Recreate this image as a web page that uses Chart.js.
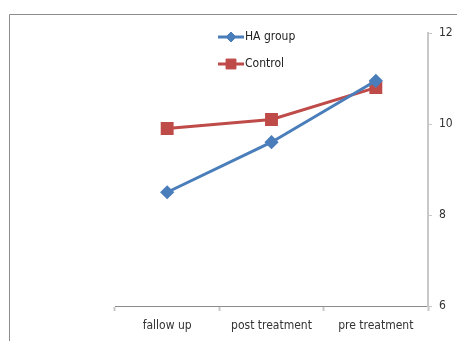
<!DOCTYPE html>
<html>
<head>
<meta charset="utf-8">
<script src="https://cdn.jsdelivr.net/npm/chart.js@4/dist/chart.umd.min.js"></script>
<style>
  html, body { margin: 0; padding: 0; background: #fff; }
  #wrap { width: 457px; height: 341px; position: relative; }
</style>
</head>
<body>
<div id="wrap"><canvas id="c" width="457" height="341"></canvas></div>
<script>
const categories = ['fallow up', 'post treatment', 'pre treatment'];
const haGroup = [8.5, 9.6, 10.95];
const control = [9.9, 10.1, 10.8];
const yTicks = [6, 8, 10, 12];

const FONT = "'Liberation Sans Narrow', 'DejaVu Sans Condensed', 'Liberation Sans', sans-serif";

// Outer frame (only top and left edges fall inside the canvas)
const framePlugin = {
  id: 'frame',
  beforeDraw(chart) {
    const ctx = chart.ctx;
    ctx.save();
    ctx.strokeStyle = '#8c8c8c';
    ctx.lineWidth = 1;
    ctx.beginPath();
    ctx.moveTo(9.5, 341);
    ctx.lineTo(9.5, 14.5);
    ctx.lineTo(457, 14.5);
    ctx.stroke();
    ctx.restore();
  }
};

// Vertical legend placed inside the plot area
const legendPlugin = {
  id: 'innerLegend',
  afterDraw(chart) {
    const ctx = chart.ctx;
    const rows = [37, 64];
    chart.data.datasets.forEach((ds, i) => {
      const y = rows[i];
      ctx.save();
      ctx.strokeStyle = ds.borderColor;
      ctx.lineWidth = 3;
      ctx.beginPath();
      ctx.moveTo(218, y);
      ctx.lineTo(244, y);
      ctx.stroke();
      ctx.fillStyle = ds.pointBackgroundColor;
      ctx.strokeStyle = ds.pointBorderColor;
      ctx.lineWidth = 1;
      Chart.helpers.drawPoint(ctx, {
        pointStyle: ds.pointStyle,
        radius: ds.pointRadius,
        borderWidth: 1
      }, 231, y);
      ctx.fillStyle = '#222';
      ctx.font = '12px ' + FONT;
      ctx.textBaseline = 'middle';
      ctx.textAlign = 'left';
      ctx.fillText(ds.label, 245, y);
      ctx.restore();
    });
  }
};

new Chart(document.getElementById('c'), {
  type: 'line',
  data: {
    labels: categories,
    datasets: [
      {
        label: 'HA group',
        data: haGroup,
        borderColor: '#4a7ebb',
        backgroundColor: '#4a7ebb',
        pointBackgroundColor: '#4a7ebb',
        pointBorderColor: '#4a7ebb',
        borderWidth: 3,
        pointStyle: 'rectRot',
        pointRadius: 5,
        tension: 0
      },
      {
        label: 'Control',
        data: control,
        borderColor: '#be4b48',
        backgroundColor: '#be4b48',
        pointBackgroundColor: '#be4b48',
        pointBorderColor: '#be4b48',
        borderWidth: 3,
        pointStyle: 'rect',
        pointRadius: 7,
        tension: 0
      }
    ]
  },
  options: {
    responsive: false,
    animation: false,
    devicePixelRatio: 1,
    layout: { padding: { left: 115, top: 33, right: 0, bottom: 0 } },
    plugins: {
      legend: { display: false },
      tooltip: { enabled: false }
    },
    scales: {
      x: {
        offset: true,
        grid: {
          display: true,
          offset: true,
          drawOnChartArea: false,
          drawTicks: true,
          tickLength: 5,
          color: '#c8c8c8',
          tickWidth: 2
        },
        border: { display: true, color: '#8c8c8c', width: 1 },
        ticks: {
          color: '#333',
          font: { family: FONT, size: 12 },
          padding: 8,
          maxRotation: 0
        },
        afterFit(scale) { scale.height = 35; }
      },
      y: {
        position: 'right',
        min: 6,
        max: 12,
        afterBuildTicks(scale) { scale.ticks = yTicks.map(v => ({ value: v })); },
        grid: {
          display: true,
          drawOnChartArea: false,
          drawTicks: true,
          tickLength: 4,
          color: '#c8c8c8'
        },
        border: { display: true, color: '#c8c8c8', width: 2 },
        ticks: {
          color: '#333',
          font: { family: FONT, size: 12 },
          padding: 7
        },
        afterFit(scale) { scale.width = 29; }
      }
    }
  },
  plugins: [framePlugin, legendPlugin]
});
</script>
</body>
</html>
